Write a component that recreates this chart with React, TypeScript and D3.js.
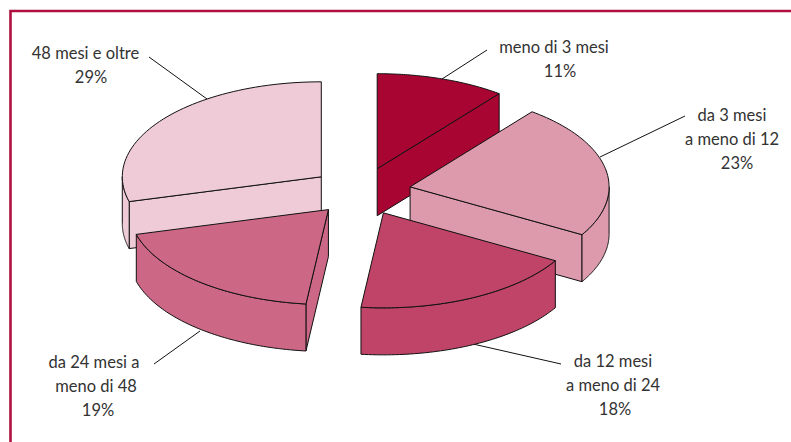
import React from 'react';
import * as d3 from 'd3';

const categories = ['meno di 3 mesi', 'da 3 mesi a meno di 12', 'da 12 mesi a meno di 24', 'da 24 mesi a meno di 48', '48 mesi e oltre'];
// unrounded shares read from the slice edges, the labels show them rounded
const values = [10.5, 22.9, 18.4, 19.0, 29.2];
const colors = ['#a90533', '#dd9aad', '#bf4468', '#cc6885', '#eecbd6'];
// painter's order, back slices first
const drawOrder = [0, 4, 1, 3, 2];

const labelLines = [
    ['meno di 3 mesi', '11%'],
    ['da 3 mesi', 'a meno di 12', '23%'],
    ['da 12 mesi', 'a meno di 24', '18%'],
    ['da 24 mesi a', 'meno di 48', '19%'],
    ['48 mesi e oltre', '29%'],
];

const width = 791;
const height = 442;
const cx = 361;
const cy = 191.4;
const rx = 199;
const ry = 95;
const depth = 47;
const explodeX = 50;
const explodeY = 24;
const frameColor = '#b0103f';

// line centres and first baseline for each label
const labelPos = [
    { xs: [554, 560], y: 53 },
    { xs: [732, 732, 737], y: 121 },
    { xs: [613, 613, 615], y: 367 },
    { xs: [94, 96, 98], y: 368 },
    { xs: [85.5, 91], y: 59 },
];
const leaders = [
    [[487, 50], [442, 79]],
    [[685, 116], [600, 157]],
    [[561, 364], [473, 344]],
    [[154, 364], [200, 331]],
    [[149, 57], [207, 99]],
];

const arcs = d3.pie<number>().sort(null)(values);
const line = d3.line();

function slicePaths(i: number) {
    const { startAngle: a0, endAngle: a1 } = arcs[i];
    const mid = (a0 + a1) / 2;
    const ox = cx + explodeX * Math.sin(mid);
    const oy = cy - explodeY * Math.cos(mid);
    const pt = (a: number, dy = 0): [number, number] => [ox + rx * Math.sin(a), oy - ry * Math.cos(a) + dy];
    const steps = (from: number, to: number) => d3.range(0, 61).map(k => from + (to - from) * k / 60);

    const top = line([[ox, oy], ...steps(a0, a1).map(a => pt(a))]) + 'Z';
    const sides: string[] = [];
    // cut faces, only the ones turned towards the viewer
    if (Math.sin(a0) < -1e-6) {
        sides.push(line([[ox, oy], pt(a0), pt(a0, depth), [ox, oy + depth]]) + 'Z');
    }
    if (Math.sin(a1) > 1e-6) {
        sides.push(line([[ox, oy], pt(a1), pt(a1, depth), [ox, oy + depth]]) + 'Z');
    }
    // outer wall, the front half of the ellipse
    const w0 = Math.max(a0, Math.PI / 2);
    const w1 = Math.min(a1, Math.PI * 1.5);
    if (w1 > w0) {
        const s = steps(w0, w1);
        sides.push(line([...s.map(a => pt(a)), ...s.slice().reverse().map(a => pt(a, depth))]) + 'Z');
    }
    return { top, sides };
}

export default function App() {
    return (
        <svg width={width} height={height} style={{ position: 'absolute', left: 0, top: 0, background: '#fff' }}>
            <path d={`M10.5 ${height}V11H${width}`} fill="none" stroke={frameColor} strokeWidth={2.6} />
            {leaders.map((l, i) => (
                <path key={i} d={line(l as [number, number][]) as string} fill="none" stroke="#111" strokeWidth={1} />
            ))}
            {drawOrder.map(i => {
                const { top, sides } = slicePaths(i);
                return (
                    <g key={categories[i]} fill={colors[i]} stroke="#111" strokeWidth={1} strokeLinejoin="round">
                        {sides.map((d, k) => <path key={k} d={d} />)}
                        <path d={top} />
                    </g>
                );
            })}
            {labelLines.map((lines, i) => (
                <text key={i} fontFamily="Lato, sans-serif" fontSize={16.5} fill="#333" textAnchor="middle">
                    {lines.map((t, k) => (
                        <tspan key={k} x={labelPos[i].xs[k]} y={labelPos[i].y + k * 24}>{t}</tspan>
                    ))}
                </text>
            ))}
        </svg>
    );
}
